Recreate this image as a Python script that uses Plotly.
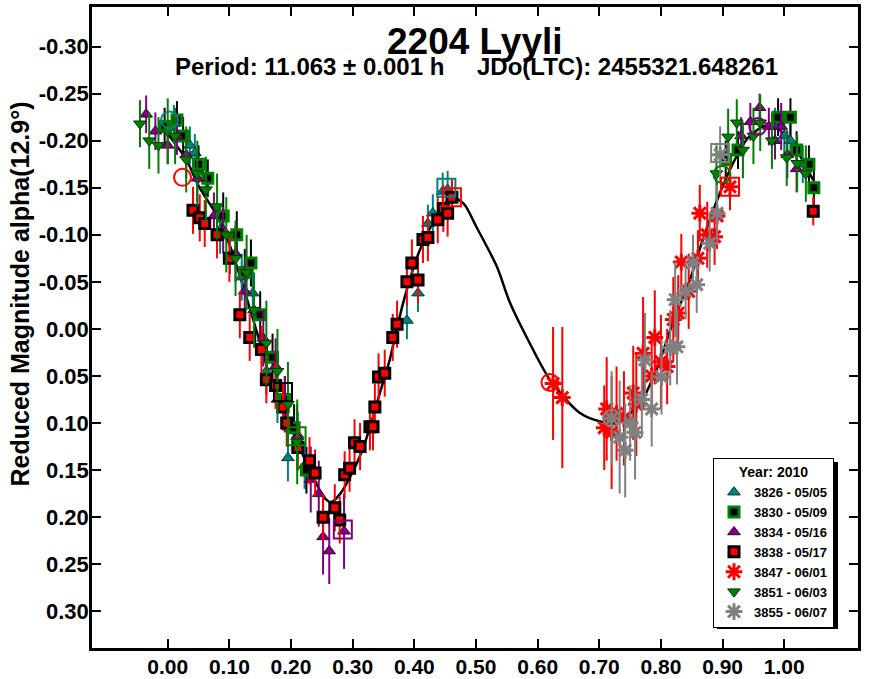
import plotly.graph_objects as go

# ---------------- data ----------------
curve_phase = [0.000, 0.030, 0.050, 0.080, 0.100, 0.120, 0.150, 0.170, 0.200, 0.220, 0.240, 0.255,
               0.265, 0.280, 0.300, 0.315, 0.330, 0.345, 0.360, 0.382, 0.409, 0.436, 0.460, 0.480,
               0.501, 0.534, 0.555, 0.587, 0.620, 0.668, 0.706, 0.730, 0.766, 0.793, 0.819, 0.847,
               0.868, 0.896, 0.920, 0.940, 0.965, 0.980, 1.000, 1.020, 1.047]
curve_mag = [-0.207, -0.180, -0.152, -0.120, -0.090, -0.050, 0.015, 0.060, 0.105, 0.135, 0.163, 0.180,
             0.184, 0.175, 0.152, 0.130, 0.100, 0.066, 0.033, -0.028, -0.084, -0.119, -0.140, -0.133,
             -0.108, -0.066, -0.028, 0.015, 0.054, 0.089, 0.099, 0.100, 0.079, 0.043, -0.006, -0.052,
             -0.095, -0.145, -0.180, -0.202, -0.215, -0.216, -0.207, -0.190, -0.158]

p3826 = [0.010, 0.036, 0.044, 0.062, 0.085, 0.101, 0.120, 0.138, 0.160, 0.178, 0.195, 0.211, 0.222,
         0.388, 0.406, 0.422, 0.430, 0.446, 0.454, 0.985, 1.000, 1.010, 1.030]
m3826 = [-0.218, -0.195, -0.187, -0.160, -0.105, -0.078, -0.055, -0.038, 0.045, 0.075, 0.137, 0.113, 0.145,
         -0.009, -0.038, -0.112, -0.123, -0.146, -0.148, -0.215, -0.205, -0.200, -0.175]
e3826 = [0.020, 0.020, 0.020, 0.020, 0.025, 0.020, 0.025, 0.025, 0.025, 0.025, 0.025, 0.025, 0.025,
         0.020, 0.020, 0.020, 0.020, 0.020, 0.020, 0.020, 0.020, 0.020, 0.020]

p3830 = [-0.005, 0.015, 0.025, 0.050, 0.065, 0.090, 0.112, 0.125, 0.135, 0.150, 0.170, 0.190, 0.205, 0.225,
         0.905, 0.925, 0.990, 1.010, 1.020, 1.040, 1.048]
m3830 = [-0.215, -0.222, -0.205, -0.175, -0.160, -0.120, -0.100, -0.060, -0.070, -0.015, 0.030, 0.075, 0.105, 0.150,
         -0.180, -0.190, -0.225, -0.225, -0.190, -0.175, -0.150]
e3830 = [0.020, 0.020, 0.020, 0.020, 0.020, 0.025, 0.025, 0.025, 0.025, 0.025, 0.025, 0.025, 0.025, 0.025,
         0.020, 0.020, 0.020, 0.020, 0.020, 0.020, 0.020]

p3834 = [-0.035, -0.020, 0.000, 0.015, 0.030, 0.048, 0.075, 0.090, 0.110, 0.125, 0.140, 0.155, 0.175, 0.190,
         0.210, 0.232, 0.245, 0.252, 0.262, 0.286, 0.930, 0.945, 0.960, 0.975, 0.985, 0.995, 1.005, 1.020]
m3834 = [-0.228, -0.210, -0.195, -0.205, -0.185, -0.160, -0.120, -0.105, -0.080, -0.040, -0.020, 0.010, 0.040, 0.080,
         0.115, 0.160, 0.175, 0.221, 0.236, 0.215, -0.205, -0.220, -0.235, -0.215, -0.200, -0.215, -0.185, -0.170]
e3834 = [0.020, 0.020, 0.020, 0.020, 0.025, 0.025, 0.025, 0.025, 0.030, 0.030, 0.030, 0.030, 0.030, 0.030,
         0.035, 0.035, 0.035, 0.040, 0.035, 0.040, 0.020, 0.020, 0.015, 0.020, 0.020, 0.025, 0.025, 0.025]

p3838 = [0.041, 0.052, 0.060, 0.080, 0.100, 0.117, 0.133, 0.152, 0.160, 0.175, 0.187, 0.193, 0.211, 0.230, 0.239,
         0.252, 0.271, 0.279, 0.287, 0.295, 0.303, 0.312, 0.328, 0.333, 0.336, 0.342, 0.352, 0.365, 0.372,
         0.388, 0.396, 0.406, 0.414, 0.422, 0.438, 0.447, 0.454, 0.461, 1.047]
m3838 = [-0.126, -0.118, -0.112, -0.100, -0.075, -0.015, 0.009, 0.022, 0.054, 0.060, 0.083, 0.100, 0.126, 0.140, 0.153,
         0.200, 0.190, 0.203, 0.155, 0.148, 0.121, 0.125, 0.104, 0.104, 0.083, 0.051, 0.047, 0.009, -0.005,
         -0.050, -0.070, -0.052, -0.095, -0.097, -0.116, -0.128, -0.123, -0.140, -0.125]
e3838 = [0.025, 0.025, 0.025, 0.025, 0.025, 0.025, 0.025, 0.025, 0.025, 0.025, 0.025, 0.025, 0.025, 0.025, 0.025,
         0.025, 0.025, 0.025, 0.025, 0.025, 0.025, 0.025, 0.025, 0.025, 0.025, 0.025, 0.025, 0.025, 0.025,
         0.025, 0.025, 0.025, 0.025, 0.025, 0.025, 0.025, 0.025, 0.020, 0.015]

p3847 = [0.625, 0.640, 0.708, 0.712, 0.720, 0.728, 0.740, 0.755, 0.760, 0.771, 0.785, 0.790, 0.800, 0.810,
         0.820, 0.828, 0.833, 0.845, 0.860, 0.863, 0.875, 0.887, 0.891, 0.912]
m3847 = [0.058, 0.073, 0.105, 0.085, 0.110, 0.090, 0.095, 0.068, 0.080, 0.026, 0.050, 0.009, 0.035, 0.040,
         -0.010, -0.017, -0.071, -0.040, -0.075, -0.123, -0.100, -0.098, -0.120, -0.151]
e3847 = [0.060, 0.075, 0.045, 0.055, 0.060, 0.050, 0.050, 0.050, 0.055, 0.060, 0.040, 0.050, 0.050, 0.040,
         0.045, 0.040, 0.030, 0.040, 0.030, 0.030, 0.035, 0.030, 0.035, 0.025]

p3851 = [-0.045, -0.030, -0.015, 0.000, 0.012, 0.030, 0.048, 0.062, 0.080, 0.095, 0.110, 0.128, 0.140, 0.160,
         0.178, 0.195, 0.210, 0.890, 0.909, 0.923, 0.933, 0.950, 0.961, 0.980, 1.004, 1.021, 1.035]
m3851 = [-0.218, -0.200, -0.195, -0.210, -0.205, -0.180, -0.165, -0.148, -0.130, -0.100, -0.075, -0.060, -0.020, 0.015,
         0.045, 0.080, 0.120, -0.165, -0.204, -0.219, -0.190, -0.205, -0.219, -0.200, -0.182, -0.176, -0.165]
e3851 = [0.025, 0.030, 0.030, 0.035, 0.030, 0.035, 0.035, 0.035, 0.035, 0.040, 0.040, 0.040, 0.040, 0.045,
         0.045, 0.045, 0.045, 0.030, 0.030, 0.025, 0.030, 0.030, 0.030, 0.030, 0.030, 0.030, 0.030]

p3855 = [0.720, 0.733, 0.742, 0.750, 0.758, 0.769, 0.774, 0.785, 0.801, 0.815, 0.823, 0.826, 0.840, 0.852,
         0.858, 0.879, 0.891, 0.896]
m3855 = [0.095, 0.115, 0.129, 0.100, 0.110, 0.075, 0.033, 0.085, 0.051, 0.020, -0.031, 0.019, -0.040, -0.070,
         -0.047, -0.091, -0.123, -0.185]
e3855 = [0.050, 0.060, 0.050, 0.040, 0.050, 0.040, 0.050, 0.040, 0.040, 0.040, 0.040, 0.040, 0.030, 0.030,
         0.030, 0.030, 0.030, 0.030]

# session first / last point markers (open circle = first, open square = last)
first_phase = [0.003, 0.957, 0.024, 0.620, 0.899, 0.720]
first_mag = [-0.222, -0.215, -0.161, 0.057, -0.164, 0.095]
first_session = ["3826", "3834", "3838", "3847", "3851", "3855"]
last_phase = [0.452, 0.187, 0.284, 0.461, 0.912, 0.209, 0.896]
last_mag = [-0.150, 0.067, 0.213, -0.140, -0.151, 0.114, -0.187]
last_session = ["3826", "3830", "3834", "3838", "3847", "3851", "3855"]

legend_names = ["3826 - 05/05", "3830 - 05/09", "3834 - 05/16", "3838 - 05/17",
                "3847 - 06/01", "3851 - 06/03", "3855 - 06/07"]
x_ticks = [0.0, 0.1, 0.2, 0.3, 0.4, 0.5, 0.6, 0.7, 0.8, 0.9, 1.0]
y_ticks = [-0.30, -0.25, -0.20, -0.15, -0.10, -0.05, 0.0, 0.05, 0.10, 0.15, 0.20, 0.25, 0.30]

# ---------------- styles ----------------
FONT = "Liberation Sans"
TEAL, GREEN, PURPLE, RED, GRAY = "#008080", "#008000", "#800080", "#FF0000", "#808080"
session_color = {"3826": TEAL, "3830": "#000000", "3834": PURPLE, "3838": RED,
                 "3847": RED, "3851": GREEN, "3855": GRAY}

fig = go.Figure()

fig.add_trace(go.Scatter(x=curve_phase, y=curve_mag, mode="lines",
                         line=dict(color="black", width=2.5, shape="spline", smoothing=0.8),
                         showlegend=False, hoverinfo="skip"))

series = [
    (p3826, m3826, e3826, legend_names[0], dict(symbol="triangle-up", size=11, color=TEAL,
                                                   line=dict(color="#003838", width=1)), TEAL),
    (p3830, m3830, e3830, legend_names[1], dict(symbol="square", size=10, color="black",
                                                   line=dict(color=GREEN, width=3)), "black"),
    (p3834, m3834, e3834, legend_names[2], dict(symbol="triangle-up", size=11, color=PURPLE,
                                                   line=dict(color="#380038", width=1)), PURPLE),
    (p3838, m3838, e3838, legend_names[3], dict(symbol="square", size=10, color=RED,
                                                   line=dict(color="black", width=3)), RED),
    (p3847, m3847, e3847, legend_names[4], dict(symbol="asterisk-open", size=14, color=RED,
                                                   line=dict(color=RED, width=3)), RED),
    (p3851, m3851, e3851, legend_names[5], dict(symbol="triangle-down", size=11, color=GREEN,
                                                   line=dict(color="#003800", width=1)), GREEN),
    (p3855, m3855, e3855, legend_names[6], dict(symbol="asterisk-open", size=14, color=GRAY,
                                                   line=dict(color=GRAY, width=3)), GRAY),
]
for px, py, pe, name, mk, ecol in series:
    fig.add_trace(go.Scatter(x=px, y=py, mode="markers", name=name, marker=mk,
                             error_y=dict(type="data", array=pe, visible=True, color=ecol,
                                          thickness=2, width=0)))

fig.add_trace(go.Scatter(x=first_phase, y=first_mag, mode="markers", showlegend=False,
                         marker=dict(symbol="circle-open", size=17,
                                     color=[session_color[s] for s in first_session],
                                     line=dict(width=2))))
fig.add_trace(go.Scatter(x=last_phase, y=last_mag, mode="markers", showlegend=False,
                         marker=dict(symbol="square-open", size=18,
                                     color=[session_color[s] for s in last_session],
                                     line=dict(width=2))))

axis_common = dict(showline=True, linecolor="black", linewidth=2.5, mirror="ticks",
                   ticks="inside", ticklen=9, tickwidth=1.5, tickcolor="black",
                   showgrid=False, zeroline=False, automargin=False)

fig.update_layout(
    width=872, height=679,
    margin=dict(l=92, r=14, t=7, b=31),
    paper_bgcolor="white", plot_bgcolor="white",
    xaxis=dict(range=[-0.1228, 1.1196], tickvals=x_ticks, ticklabelstandoff=-2,
               ticktext=[f"{v:.2f}" for v in x_ticks],
               tickfont=dict(family=FONT, size=21, color="black", weight="bold"), **axis_common),
    yaxis=dict(range=[0.339, -0.342], tickvals=y_ticks, ticklabelstandoff=-4,
               ticktext=[f"{v:.2f}" for v in y_ticks],
               tickfont=dict(family=FONT, size=22, color="black", weight="bold"), **axis_common),
    showlegend=True,
    legend=dict(x=0.8107, y=0.2964, xanchor="left", yanchor="top",
                bgcolor="white", bordercolor="black", borderwidth=1,
                font=dict(family=FONT, size=13, color="black", weight="bold"),
                title=dict(text="Year: 2010", side="top center",
                           font=dict(family=FONT, size=14, color="black", weight="bold")),
                itemwidth=30, tracegroupgap=0),
    annotations=[
        dict(text="2204 Lyyli", xref="paper", yref="paper", x=0.4995, y=0.946,
             xanchor="center", yanchor="middle", showarrow=False,
             font=dict(family=FONT, size=37, color="black", weight="bold")),
        dict(text="Period: 11.063 ± 0.001 h", xref="paper", yref="paper", x=0.2833, y=0.9077,
             xanchor="center", yanchor="middle", showarrow=False,
             font=dict(family=FONT, size=24, color="black", weight="bold")),
        dict(text="JDo(LTC): 2455321.648261", xref="paper", yref="paper", x=0.6997, y=0.9077,
             xanchor="center", yanchor="middle", showarrow=False,
             font=dict(family=FONT, size=24, color="black", weight="bold")),
        dict(text="Reduced Magnitude alpha(12.9°)", xref="paper", yref="paper", x=-0.094, y=0.553,
             xanchor="center", yanchor="middle", showarrow=False, textangle=-90,
             font=dict(family=FONT, size=25, color="black", weight="bold")),
    ],
    shapes=[dict(type="rect", xref="paper", yref="paper", x0=0.8159, x1=0.9739,
                 y0=0.0296, y1=0.2902, fillcolor="black", line=dict(width=0), layer="above")],
)

fig.write_html("out.html", config={"displayModeBar": False},
               post_script="document.body.style.margin='0px';")
